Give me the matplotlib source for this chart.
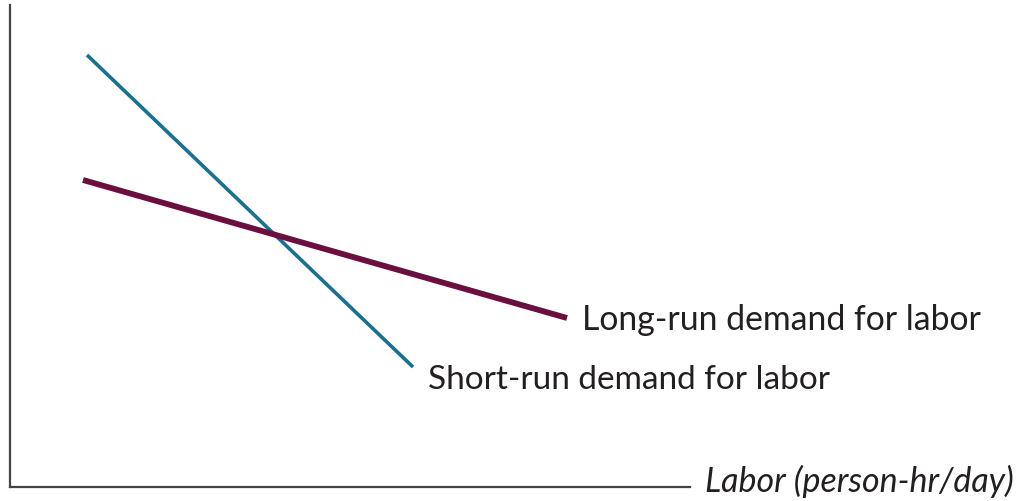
import matplotlib
matplotlib.use("Agg")
import matplotlib.pyplot as plt

# labor quantity vs wage (arbitrary units)
short_run_labor = [77, 403]
short_run_wage = [432, 120]
long_run_labor = [73, 557]
long_run_wage = [307, 169]

labels = ["Short-run demand for labor", "Long-run demand for labor"]
x_label = "Labor (person-hr/day)"

fig = plt.figure(figsize=(10.28, 5.01), dpi=100)
ax = fig.add_axes([10 / 1028, 14 / 501, 680 / 1028, 482 / 501])
ax.set_xlim(0, 680)
ax.set_ylim(0, 482)

ax.plot(short_run_labor, short_run_wage, color="#1b6f8f", lw=2.6, solid_capstyle="butt")
ax.plot(long_run_labor, long_run_wage, color="#6a0f3e", lw=4.2, solid_capstyle="butt")

# curve labels, placed by baseline
ax.text(long_run_labor[1] + 15, long_run_wage[1] - 12, labels[1], fontsize=24.3,
        family="Lato", color="#231f20", va="baseline", ha="left", clip_on=False)
ax.text(short_run_labor[1] + 15, short_run_wage[1] - 22, labels[0], fontsize=24,
        family="Lato", color="#231f20", va="baseline", ha="left", clip_on=False)

ax.text(695, -5, x_label, fontsize=24.5, family="Lato", style="italic",
        color="#231f20", va="baseline", ha="left", clip_on=False)

for side in ["top", "right"]:
    ax.spines[side].set_visible(False)
for side in ["left", "bottom"]:
    ax.spines[side].set_color("#444444")
    ax.spines[side].set_linewidth(1.6)
ax.set_xticks([])
ax.set_yticks([])

fig.savefig("out.png", dpi=100)
